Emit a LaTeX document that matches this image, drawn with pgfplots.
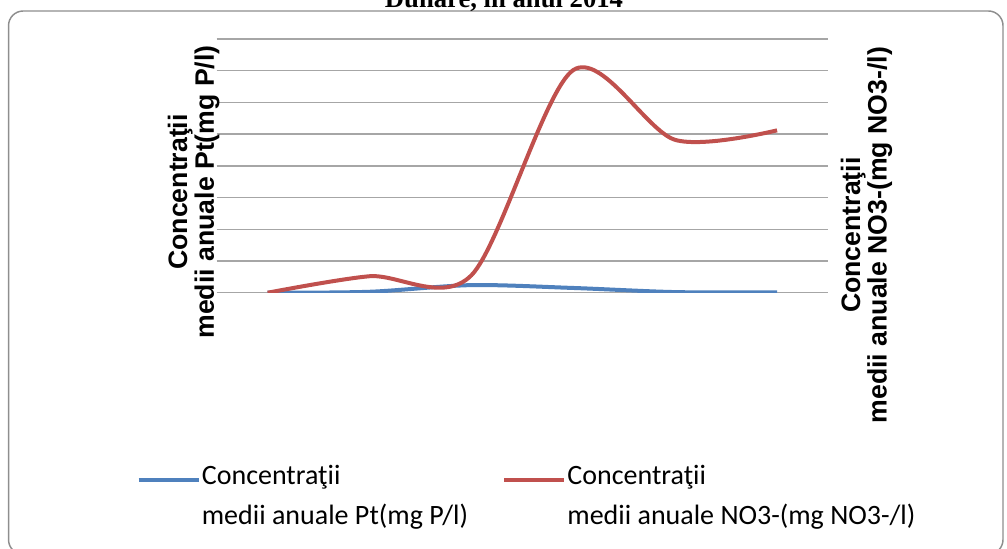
\documentclass[border=0pt]{standalone}
\usepackage{fontspec}
\setmainfont{Liberation Serif}
\newfontfamily\arialfont{Liberation Sans}
\newfontfamily\calibrifont{Carlito}
\usepackage{pgfplots}
\pgfplotsset{compat=1.18}
\definecolor{ptblue}{HTML}{4F81BD}
\definecolor{nored}{HTML}{C0504D}
\definecolor{gridgray}{HTML}{A6A6A6}
\definecolor{boxgray}{HTML}{8E8E8E}

\pgfplotsset{
  common/.style={
    at={(162.5pt,192.2pt)}, anchor=south west,
    scale only axis, width=458.5pt, height=190.3pt,
    xmin=0.5, xmax=6.5, ymin=0, ymax=8,
    xtick=\empty, ytick={0,1,...,8}, yticklabels={},
    axis line style={draw=none}, tick style={draw=none},
    ylabel style={anchor=center, align=center,
      font=\arialfont\bfseries\fontsize{20}{20}\selectfont},
  }
}

\begin{document}
\begin{tikzpicture}
\useasboundingbox (0,0) rectangle (755.25pt,411.75pt);
\draw[boxgray, line width=1.1pt, rounded corners=11pt] (6.4pt,-4pt) rectangle (752.25pt,403.5pt);
\node[anchor=base, font=\bfseries\fontsize{20}{22}\selectfont, inner sep=0pt] at (378pt,406pt) {Dunăre, în anul 2014};

% primary axis: Pt
\begin{axis}[common,
  ymajorgrids, major grid style={gridgray, line width=1.1pt},
  ylabel={Concentraţii\\medii anuale Pt(mg P/l)},
  ylabel style={at={(rel axis cs:-0.0375,0.397)}},
]
\addplot[ptblue, line width=3pt, smooth, tension=0.5] coordinates {
  (1,0) (2,0.03) (3,0.24) (4,0.15) (5,0.02) (6,0.01)
};
\end{axis}

% secondary axis: NO3-
\begin{axis}[common,
  ylabel={Concentraţii\\medii anuale NO3-(mg NO3-/l)},
  ylabel style={at={(rel axis cs:1.063,0.227)}},
  legend columns=2,
  legend cell align=left,
  legend image code/.code={\draw[#1] (0pt,12pt) -- (45pt,12pt);},
  legend style={draw=none, fill=none, at={(rel axis cs:-0.1315,-0.667)},
    anchor=north west, inner sep=0pt, cells={align=left},
    nodes={inner xsep=1pt},
    font=\calibrifont\fontsize{21}{30}\selectfont,
    /tikz/every even column/.append style={column sep=24.5pt}},
]
\addlegendimage{ptblue, line width=3pt}
\addlegendentry{Concentraţii\\medii anuale Pt(mg P/l)}
\addplot[nored, line width=3pt, smooth, tension=0.5] coordinates {
  (1,0) (2,0.52) (3,0.55) (4,7.02) (5,4.82) (6,5.12)
};
\addlegendentry{Concentraţii\\medii anuale NO3-(mg NO3-/l)}
\end{axis}
\end{tikzpicture}
\end{document}
